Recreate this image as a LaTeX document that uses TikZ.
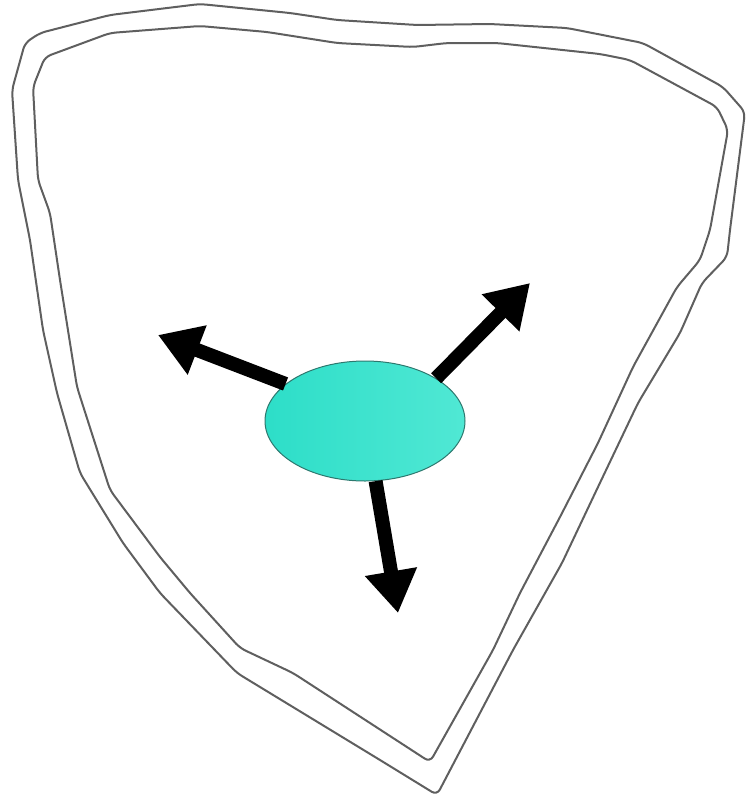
\documentclass[tikz,border=0pt]{standalone}
\usepackage{xcolor}
\usepackage{tikz}
\usetikzlibrary{arrows.meta,shapes.geometric}
\definecolor{wallgray}{RGB}{95,95,95}
\definecolor{cellleft}{RGB}{45,222,200}
\definecolor{cellright}{RGB}{80,232,212}
\definecolor{celledge}{RGB}{45,120,110}

\begin{document}
\begin{tikzpicture}[x=1pt,y=-1pt,
  wall/.style={wallgray,line width=2pt,rounded corners=6pt},
  push/.style={line width=14pt,-{Triangle[length=42pt,width=50pt]}}]
\useasboundingbox (0,0) rectangle (747,801);
% outer wall
\draw[wall](25,43)--(40,33)--(110,15)--(200,4)--(290,13)--(337,20)--(417,25)--(490,24)--(567,28)
--(643,43)--(723,87)--(745,112)--(730,230)--(727,257)--(702,283)--(680,333)--(638,403)--(598,487)
--(562,563)--(513,650)--(437,795)--(380,760)--(237,673)--(160,593)--(123,543)--(80,473)--(57,393)
--(43,330)--(30,240)--(18,180)--(12,90)--cycle;
% inner wall
\draw[wall](45,57)--(110,33)--(200,26)--(267,32)--(337,43)--(413,47)--(447,43)--(497,43)--(600,54)
--(630,60)--(717,107)--(728,130)--(710,230)--(700,260)--(677,287)--(633,367)--(598,443)--(560,517)
--(520,593)--(493,650)--(430,762)--(293,673)--(240,648)--(190,593)--(160,557)--(110,490)--(77,387)
--(60,280)--(50,213)--(38,180)--(33,87)--cycle;
% cell
\node[ellipse,draw=celledge,line width=1pt,left color=cellleft,right color=cellright,
minimum width=200pt,minimum height=120pt,inner sep=0pt](cell)at(365,421){};
\coordinate(pushW)at(158,335);
\coordinate(pushNE)at(530,283);
\coordinate(pushS)at(398,613);
\draw[push](cell.155)--(pushW);
\draw[push](cell.31)--(pushNE);
\draw[push](cell.280)--(pushS);
\end{tikzpicture}
\end{document}
